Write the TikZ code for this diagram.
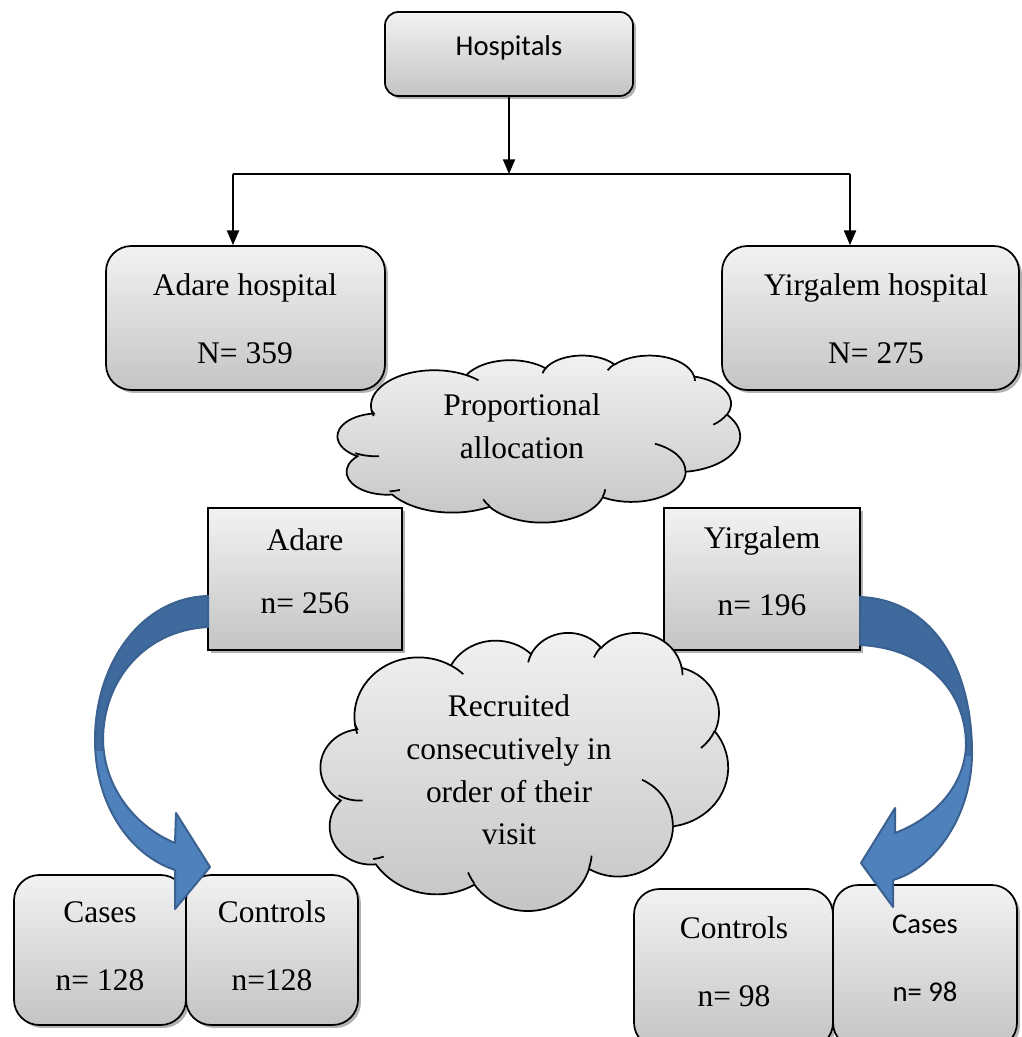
\documentclass[tikz,border=0pt]{standalone}
\usepackage{fontspec}
\setmainfont{Liberation Serif}
\newfontfamily\calibri{Carlito}
\usetikzlibrary{shadows,fit,arrows.meta}
\definecolor{boxtop}{HTML}{F2F2F2}
\definecolor{boxbot}{HTML}{C4C4C4}
\definecolor{arrlight}{HTML}{4F81BD}
\definecolor{arrdark}{HTML}{3E6A9E}
\definecolor{arredge}{HTML}{3A6190}
\newcommand\leftarrowpath{(208,596) .. controls (140,598) and (95,665) .. (95,740) .. controls (95,805) and (130,855) .. (175,870) -- (175,909) -- (210,867) -- (176,813) -- (175,843) .. controls (138,828) and (104,790) .. (103,740) .. controls (103,680) and (145,630) .. (208,627) -- cycle}
\newcommand\rightarrowpath{(860,597) .. controls (935,600) and (972,670) .. (972,753) .. controls (972,815) and (935,868) .. (893,880) -- (893,907) -- (861,863) -- (895,808) -- (895,833) .. controls (935,818) and (965,785) .. (966,745) .. controls (966,690) and (925,648) .. (860,645) -- cycle}
% Office-style cloud outline in a 432 x 432 frame
\newcommand\cloudpath{(39.00,143.70)
 arc[start angle=-187.75, end angle=-59.64, x radius=67.53, y radius=91.90]
 arc[start angle=-152.04, end angle=-45.45, x radius=53.33, y radius=72.67]
 arc[start angle=-153.49, end angle=-37.33, x radius=43.65, y radius=59.45]
 arc[start angle=-139.72, end angle=-10.21, x radius=48.57, y radius=65.95]
 arc[start angle=-74.77, end angle=23.21, x radius=53.33, y radius=72.73]
 arc[start angle=-37.53, end angle=81.86, x radius=67.75, y radius=92.20]
 arc[start angle=0.46, end angle=121.97, x radius=57.85, y radius=78.67]
 arc[start angle=16.84, end angle=146.23, x radius=67.52, y radius=92.15]
 arc[start angle=58.98, end angle=146.15, x radius=77.20, y radius=105.43]
 arc[start angle=83.31, end angle=223.11, x radius=43.60, y radius=59.18]
 arc[start angle=120.35, end angle=264.11, x radius=43.45, y radius=59.45]
 -- cycle}
\newcommand\cloudinner{(46.93,261.77) arc[start angle=85.55, end angle=120.36, x radius=43.45, y radius=59.45]
 (69.28,348.99) arc[start angle=68.23, end angle=83.31, x radius=43.60, y radius=59.18]
 (164.78,390.90) arc[start angle=146.23, end angle=158.47, x radius=67.52, y radius=92.15]
 (288.27,347.51) arc[start angle=4.74, end angle=16.84, x radius=67.52, y radius=92.15]
 (341.29,229.54) arc[start angle=-64.03, end angle=0.46, x radius=57.85, y radius=78.67]
 (417.98,153.54) arc[start angle=23.21, end angle=49.63, x radius=53.33, y radius=72.73]
 (383.24,54.26) arc[start angle=-10.21, end angle=0.82, x radius=48.57, y radius=65.95]
 (290.78,39.52) arc[start angle=-156.29, end angle=-139.72, x radius=48.57, y radius=65.95]
 (221.41,47.20) arc[start angle=-167.73, end angle=-153.49, x radius=43.65, y radius=59.45]
 (140.00,51.92) arc[start angle=-59.64, end angle=-45.74, x radius=67.53, y radius=91.90]
 (41.27,157.89) arc[start angle=163.20, end angle=172.25, x radius=67.53, y radius=91.90]}
\begin{document}
\begin{tikzpicture}[x=0.75pt,y=-0.75pt,
  serif/.style={font=\fontsize{23.6pt}{32pt}\selectfont, align=center, inner sep=0pt},
  serifA/.style={font=\fontsize{23.6pt}{51pt}\selectfont, align=center, inner sep=0pt},
  serifB/.style={font=\fontsize{23.6pt}{47pt}\selectfont, align=center, inner sep=0pt},
  serifC/.style={font=\fontsize{23.6pt}{50pt}\selectfont, align=center, inner sep=0pt},
  sans/.style={font=\calibri\fontsize{21.5pt}{51pt}\selectfont, align=center, inner sep=0pt},
  grad/.style={top color=boxtop, bottom color=boxbot},
  shadowed/.style={drop shadow={shadow xshift=2.2pt, shadow yshift=-2.2pt, opacity=0.3, fill=black}},
  rbox/.style={rectangle, rounded corners=#1, draw=black, line width=1.3pt, grad, shadowed, inner sep=0pt},
  sbox/.style={rectangle, draw=black, line width=1.3pt, grad, shadowed, inner sep=0pt},
  cloudline/.style={draw=black, line width=1.3pt, grad},
  conn/.style={line width=1.4pt, draw=black},
  arr/.style={conn, -{Triangle[length=11pt,width=9pt]}},
  bluearrow/.style={line width=1.5pt, draw=arredge, line join=round}
]
\useasboundingbox (0,0) rectangle (1021,1037);

% top box and connectors
\node[rbox=10pt, fit={(385,12)(633,96)}] (hosp) {};
\node[sans] (hospT) at (509,48) {Hospitals};
\coordinate (jc) at (509,174);
\coordinate (jl) at (233,174);
\coordinate (jr) at (850,174);

\node[rbox=19pt, fit={(106,246)(385,390)}] (adareH) {};
\node[serifA] (adareHT) at (245,319) {Adare hospital\\N= 359};
\node[rbox=19pt, fit={(722,246)(1019,390)}] (yirH) {};
\node[serifA] (yirHT) at (876,319) {Yirgalem hospital\\N= 275};

\draw[arr] (hosp.south -| jc) -- (jc);
\draw[conn] (jl) -- (jr);
\draw[arr] (jl) -- (jl |- adareH.north);
\draw[arr] (jr) -- (jr |- yirH.north);

% first cloud
\begin{scope}[shift={(335,355)}, xscale=0.9375, yscale=0.38657]
  \path[cloudline] \cloudpath;
  \draw[line width=1.3pt] \cloudinner;
\end{scope}
\node[serif] (propText) at (522,426) {Proportional\\allocation};

% allocation boxes
\node[sbox, fit={(208,508)(402,650)}] (adareS) {};
\node[serifB] (adareST) at (305,571.5) {Adare\\n= 256};
\node[sbox, fit={(664,508)(860,650)}] (yirS) {};
\node[serifC] (yirST) at (762,571.5) {Yirgalem\\n= 196};

% second cloud
\begin{scope}[shift={(318,632)}, xscale=0.94907, yscale=0.64352]
  \path[cloudline] \cloudpath;
  \draw[line width=1.3pt] \cloudinner;
\end{scope}
\node[serif] (recText) at (509,770) {Recruited\\consecutively in\\order of their\\visit};

% bottom boxes
\node[rbox=19pt, fit={(14,875)(186,1025)}] (casesL) {};
\node[serifA] (casesLT) at (100,946) {Cases\\n= 128};
\node[rbox=19pt, fit={(186,875)(358,1025)}] (controlsL) {};
\node[serifA] (controlsLT) at (272,946) {Controls\\n=128};
\node[rbox=19pt, fit={(634,889)(833,1048)}] (controlsR) {};
\node[serifA] (controlsRT) at (734,961.5) {Controls\\n= 98};
\node[rbox=19pt, fit={(833,885)(1017,1048)}] (casesR) {};
\node[sans] (casesRT) at (925,958) {Cases\\n= 98};

% curved blue arrows
\fill[arrlight] \leftarrowpath;
\begin{scope}
  \clip (0,0) rectangle (1021,750);
  \fill[arrdark] \leftarrowpath;
\end{scope}
\draw[bluearrow] \leftarrowpath;

\fill[arrlight] \rightarrowpath;
\begin{scope}
  \clip (0,0) rectangle (1021,755);
  \fill[arrdark] \rightarrowpath;
\end{scope}
\draw[bluearrow] \rightarrowpath;
\end{tikzpicture}
\end{document}
